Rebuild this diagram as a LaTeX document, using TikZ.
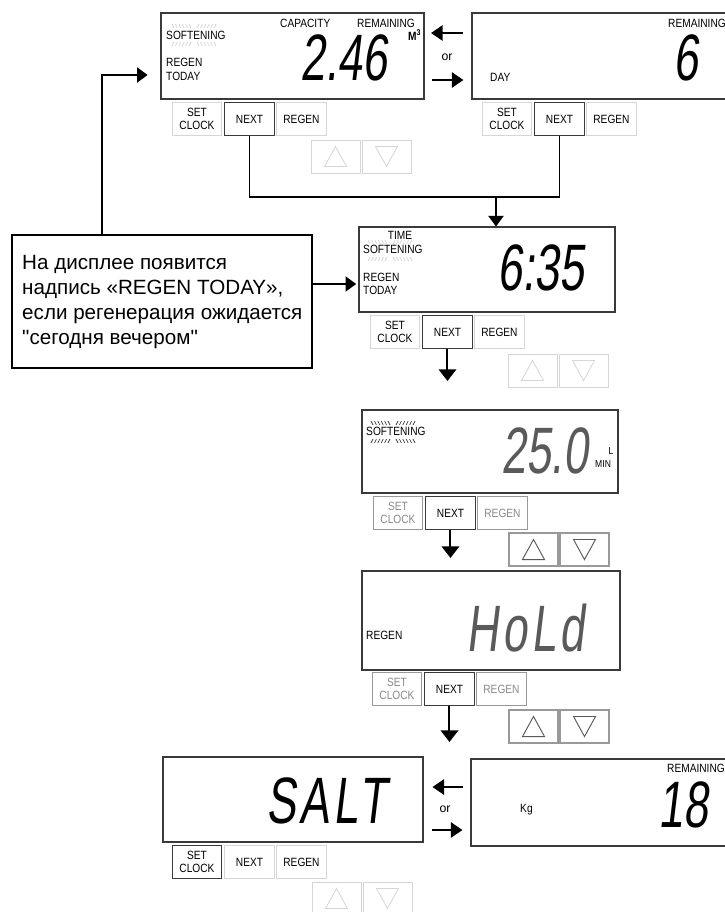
\documentclass[tikz,border=0pt]{standalone}
\usepackage{fontspec}
\setmainfont{Liberation Sans}
\newfontfamily\lcdfont[FakeStretch=0.85]{Liberation Sans}
\newfontfamily\segfont[FakeStretch=0.68,FakeSlant=0.12]{Liberation Sans}
\newfontfamily\segwide[FakeStretch=0.68,FakeSlant=0.12,LetterSpace=6]{Liberation Sans}
\usetikzlibrary{arrows.meta,fit,calc}
\definecolor{frame}{HTML}{3A3A3A}
\definecolor{lightbtn}{HTML}{D6D6D6}
\definecolor{graybtn}{HTML}{999999}
\definecolor{graytxt}{HTML}{8A8A8A}
\definecolor{flashc}{HTML}{D4D4D4}
\definecolor{segfill}{HTML}{5A5A5A}
\tikzset{
  disp/.style={draw=frame, line width=0.9pt, inner sep=0pt},
  lbl/.style={font=\lcdfont\fontsize{10.2}{12}\selectfont, inner sep=0pt, text=black},
  lblstack/.style={lbl, align=left},
  btn/.style={draw=lightbtn, line width=0.8pt, inner sep=0pt, align=center,
    anchor=north west, minimum width=1.47cm, minimum height=0.99cm,
    font=\lcdfont\fontsize{10.2}{10.6}\selectfont},
  btnon/.style={btn, draw=frame},
  btnoff/.style={btn, draw=graybtn, text=graytxt},
  keylight/.style={draw=lightbtn, line width=0.8pt, inner sep=0pt},
  keydark/.style={draw=graybtn, line width=0.9pt, inner sep=0pt},
  trilight/.style={draw=lightbtn, line width=0.7pt},
  tridark/.style={draw=segfill, line width=0.8pt},
  big/.style={font=\segfont\fontsize{56}{56}\selectfont, inner sep=0pt, anchor=base west},
  bigwide/.style={font=\segwide\fontsize{56}{56}\selectfont, inner sep=0pt, anchor=base west},
  conn/.style={draw=black, line width=1.1pt},
  connarrow/.style={conn, -{Triangle[width=13pt,length=9pt]}},
  darrow/.style={draw=black, line width=1.7pt, -{Triangle[width=15pt,length=10pt]}},
  sarrow/.style={draw=black, line width=2pt, -{Triangle[width=13pt,length=10pt]}},
  rbox/.style={draw=black, line width=1.8pt, inner sep=0pt},
  rtext/.style={font=\fontsize{17.6}{21.5}\selectfont, align=left, inner sep=0pt},
  ortext/.style={font=\fontsize{10.5}{12}\selectfont, inner sep=0pt},
}
\newcommand\btnrow[6]{%
  \node[#4] (#1s) at (#2,#3) {SET\\CLOCK};
  \node[#5, minimum width=1.5cm] (#1n) at (#2+52,#3) {NEXT};
  \node[#6, minimum width=1.5cm] (#1r) at (#2+104,#3) {REGEN};
}
\newcommand\arrowkeys[5]{%
  \node[#4, fit={(#2,#3)(#2+49,#3+33)}] (#1u) {};
  \node[#4, fit={(#2+51,#3)(#2+100,#3+33)}] (#1d) {};
  \draw[#5] ($(#1u.north)+(0,7)$) -- ($(#1u.south)+(-11,-7)$) -- ($(#1u.south)+(11,-7)$) -- cycle;
  \draw[#5] ($(#1d.south)+(0,-7)$) -- ($(#1d.north)+(-11,7)$) -- ($(#1d.north)+(11,7)$) -- cycle;
}
\newcommand\flashmarks[4]{%
  \foreach \i in {0,...,5}{
    \draw[#4, line width=0.6pt] (#1+3.4*\i,#2) -- (#1+3.4*\i+2,#2+4);
    \draw[#4, line width=0.6pt] (#1+25+3.4*\i+2,#2) -- (#1+25+3.4*\i,#2+4);
    \draw[#4, line width=0.6pt] (#1+3.4*\i+2,#3) -- (#1+3.4*\i,#3+4);
    \draw[#4, line width=0.6pt] (#1+25+3.4*\i,#3) -- (#1+25+3.4*\i+2,#3+4);
  }
}
\begin{document}
\begin{tikzpicture}[x=0.03cm, y=-0.03cm]
\clip (0,0) rectangle (725,912);
\fill[white] (0,0) rectangle (725,912);

% ---------- display 1 (top left)
\node[disp, fit={(161,13)(424,99)}] (d1) {};
\flashmarks{172}{24}{42}{flashc}
\node[lbl, anchor=west] (d1soft) at (166,35) {SOFTENING};
\node[lblstack, anchor=west] (d1regen) at (166,69.5) {REGEN\\TODAY};
\node[lbl, anchor=west] (d1cap) at (280,23) {CAPACITY};
\node[lbl, anchor=west] (d1rem) at (357,23) {REMAINING};
\node[lbl, anchor=west, font=\lcdfont\bfseries\fontsize{10.2}{12}\selectfont] (d1unit) at (408,35) {M\textsuperscript{3}};
\node[big] (d1val) at (300,80) {2.46};
\btnrow{b1}{172}{102}{btn}{btnon}{btn}
\arrowkeys{k1}{311}{140}{keylight}{trilight}

% ---------- display 2 (top right)
\node[disp, fit={(472,13)(740,99)}] (d2) {};
\node[lbl, anchor=west] (d2rem) at (668,23) {REMAINING};
\node[lbl, anchor=west] (d2day) at (490,77) {DAY};
\node[big] (d2val) at (673,80) {6};
\btnrow{b2}{482}{102}{btn}{btnon}{btn}

% arrows between top displays
\coordinate (ya1) at (0,33);
\coordinate (ya2) at (0,80);
\draw[sarrow, shorten <=7.6pt, shorten >=5.5pt] (d2.west |- ya1) -- (d1.east |- ya1);
\draw[sarrow, shorten <=6.8pt, shorten >=6.8pt] (d1.east |- ya2) -- (d2.west |- ya2);
\node[ortext] (or1) at (447,57) {or};

% ---------- display 3 (time)
\node[disp, fit={(359,227)(615,312)}] (d3) {};
\flashmarks{368}{240}{257}{flashc}
\node[lbl] (d3time) at (400,235) {TIME};
\node[lbl, anchor=west] (d3soft) at (363,249) {SOFTENING};
\node[lblstack, anchor=west, font=\lcdfont\fontsize{10.2}{11.3}\selectfont] (d3regen) at (363,283.5) {REGEN\\TODAY};
\node[big] (d3val) at (497,290) {6:35};
\btnrow{b3}{370}{315}{btn}{btnon}{btn}
\arrowkeys{k3}{508}{354}{keylight}{trilight}

% connector from top NEXT buttons to display 3
\coordinate (j) at (496,197);
\draw[conn] (b1n.south) |- (j) -| (b2n.south);
\draw[connarrow] (j) -- (j |- d3.north);

% ---------- note box
\node[rbox, fit={(12,235)(312,368)}] (rb) {};
\node[rtext, anchor=west] (rt) at (22,302) {На дисплее появится\\надпись «REGEN TODAY»,\\если регенерация ожидается\\\textquotedbl сегодня вечером\textquotedbl};
\coordinate (fb) at (102,75);
\draw[connarrow, shorten >=11pt] (rb.north -| fb) |- (d1.west |- fb);
\coordinate (ya3) at (0,284);
\draw[connarrow, shorten >=2pt] (rb.east |- ya3) -- (d3.west |- ya3);

% ---------- display 4 (flow)
\node[disp, fit={(362,410)(618,493)}] (d4) {};
\flashmarks{371}{421}{439}{frame}
\node[lbl, anchor=west] (d4soft) at (366,431) {SOFTENING};
\node[big, text=segfill] (d4val) at (501,473) {25.0};
\node[lbl, font=\lcdfont\fontsize{8.6}{10}\selectfont] (d4l) at (611,451) {L};
\node[lbl, anchor=west, font=\lcdfont\fontsize{8.6}{10}\selectfont] (d4min) at (595,464) {MIN};
\btnrow{b4}{373}{496}{btnoff}{btnon}{btnoff}
\arrowkeys{k4}{509}{533}{keydark}{tridark}
\coordinate (e3) at (0,381);
\draw[darrow] (b3n.south) -- (b3n.south |- e3);

% ---------- display 5 (hold)
\node[disp, fit={(362,571)(620,670)}] (d5) {};
\node[lbl, anchor=west] (d5regen) at (366,635) {REGEN};
\node[bigwide, text=segfill] (d5val) at (466,651) {HoLd};
\btnrow{b5}{372}{672}{btnoff}{btnon}{btnoff}
\arrowkeys{k5}{509}{710}{keydark}{tridark}
\coordinate (e4) at (0,558);
\draw[darrow] (b4n.south) -- (b4n.south |- e4);
\coordinate (e5) at (0,742);
\draw[darrow] (b5n.south) -- (b5n.south |- e5);

% ---------- display 6 (salt)
\node[disp, fit={(163,757)(423,842)}] (d6) {};
\node[bigwide] (d6val) at (266,823) {SALT};
\btnrow{b6}{172}{845}{btnon}{btn}{btn}
\arrowkeys{k6}{312}{882}{keylight}{trilight}

% ---------- display 7 (salt remaining)
\node[disp, fit={(471,759)(740,846)}] (d7) {};
\node[lbl, anchor=west] (d7rem) at (667,768) {REMAINING};
\node[lbl, anchor=west] (d7kg) at (520,810) {Kg};
\node[big] (d7val) at (658,827) {18};
\coordinate (ya4) at (0,787);
\coordinate (ya5) at (0,830);
\draw[sarrow, shorten <=6.8pt, shorten >=7.6pt] (d7.west |- ya4) -- (d6.east |- ya4);
\draw[sarrow, shorten <=7.6pt, shorten >=6.8pt] (d6.east |- ya5) -- (d7.west |- ya5);
\node[ortext] (or2) at (445,809) {or};
\end{tikzpicture}
\end{document}
